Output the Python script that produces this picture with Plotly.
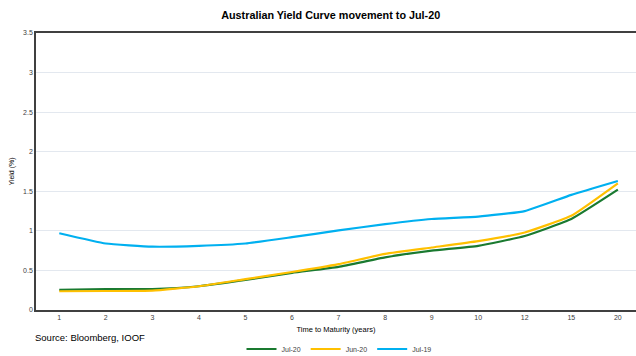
import plotly.graph_objects as go

maturities = ["1", "2", "3", "4", "5", "6", "7", "8", "9", "10", "12", "15", "20"]
jul20 = [0.255, 0.265, 0.265, 0.30, 0.38, 0.47, 0.545, 0.665, 0.75, 0.81, 0.935, 1.15, 1.52]
jun20 = [0.237, 0.24, 0.245, 0.30, 0.39, 0.48, 0.58, 0.71, 0.79, 0.87, 0.98, 1.19, 1.60]
jul19 = [0.97, 0.84, 0.80, 0.81, 0.84, 0.92, 1.005, 1.085, 1.15, 1.18, 1.25, 1.455, 1.63]

series = [("Jul-20", jul20, "#1a7a30"), ("Jun-20", jun20, "#ffc000"), ("Jul-19", jul19, "#00b0f0")]

fig = go.Figure()
for name, vals, col in series:
    fig.add_trace(go.Scatter(x=maturities, y=vals, name=name, mode="lines",
                             line=dict(color=col, width=2.2, shape="spline", smoothing=0.4)))

font = "Liberation Sans, Arial, sans-serif"
fig.update_layout(
    width=636, height=356,
    margin=dict(l=36, r=0, t=33, b=45.5, autoexpand=False),
    paper_bgcolor="white", plot_bgcolor="white",
    font=dict(family=font, size=7, color="#404040"),
    title=dict(text="<b>Australian Yield Curve movement to Jul-20</b>", x=0.52, xanchor="center",
               y=1 - 15 / 356, yanchor="middle", font=dict(size=10.8, color="#000000")),
    showlegend=True,
    legend=dict(orientation="h", x=0.505, xanchor="center", yref="container", y=7 / 356, yanchor="middle",
                font=dict(size=7, color="#404040"), itemwidth=30, bgcolor="rgba(0,0,0,0)", tracegroupgap=0),
    xaxis=dict(type="category", range=[-0.5, 12.39], showgrid=False, showline=True,
               linecolor="#404040", linewidth=2, mirror=True, ticks="", tickfont=dict(size=7),
               title=dict(text="Time to Maturity (years)", font=dict(size=7.5, color="#000000"), standoff=9)),
    yaxis=dict(range=[0, 3.5], dtick=0.5, showgrid=True, gridcolor="#e3e8ef", gridwidth=1,
               showline=True, linecolor="#404040", linewidth=1.5, mirror=False, ticks="",
               tickfont=dict(size=7), zeroline=False,
               title=dict(text="Yield (%)", font=dict(size=7, color="#000000"), standoff=8)),
    annotations=[dict(text="Source: Bloomberg, IOOF", xref="paper", yref="paper", x=-0.005, y=-27 / 277,
                      xanchor="left", yanchor="middle", showarrow=False,
                      font=dict(size=9.5, color="#000000"))],
)

fig.write_html("out.html")
